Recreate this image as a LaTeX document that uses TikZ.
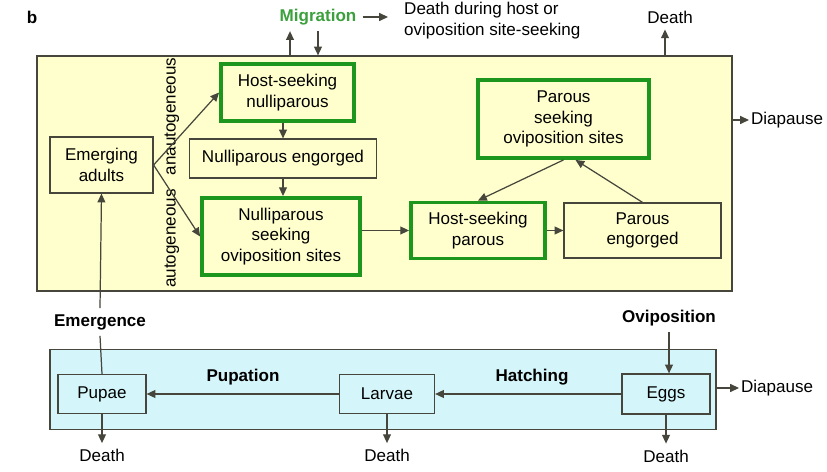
\documentclass[tikz,border=0pt]{standalone}
\usepackage{fontspec}
\setmainfont{Liberation Sans}
\usetikzlibrary{positioning, arrows.meta}
\definecolor{adultfill}{RGB}{255,255,206}
\definecolor{waterfill}{RGB}{212,246,250}
\definecolor{seekgreen}{RGB}{28,150,28}
\definecolor{miggreen}{RGB}{60,160,60}
\definecolor{edge}{RGB}{70,70,60}

\begin{document}
\begin{tikzpicture}[
    x=0.02cm, y=-0.02cm,
    every node/.style={font=\fontsize{9.7}{11.6}\selectfont},
    stage/.style={draw=edge, line width=0.7pt, fill=adultfill, align=center, inner sep=0pt},
    seeking/.style={stage, draw=seekgreen, line width=2.2pt},
    aqua/.style={stage, fill=waterfill},
    event/.style={font=\fontsize{9.7}{11.6}\selectfont\bfseries},
    flow/.style={->, draw=edge, line width=0.7pt},
    >={Triangle[length=5pt, width=4.5pt]}
]
  \fill[white] (0,0) rectangle (827,472);
  \useasboundingbox (0,0) rectangle (827,472);

  % compartments
  \node[stage, minimum width=13.9cm, minimum height=4.7cm] (adult) at (384.5,173.5) {};
  \node[aqua, minimum width=13.32cm, minimum height=1.6cm] (water) at (383,389.5) {};
  \node[event] (panel) at (32,17) {b};

  % adult stages
  \node[stage, minimum width=2.06cm, minimum height=1.12cm] (em) at (101.5,165) {Emerging\\adults};
  \node[seeking, minimum width=2.66cm, minimum height=1.14cm] (hsn) at (287.5,92.5) {Host-seeking\\nulliparous};
  \node[stage, minimum width=3.74cm, minimum height=0.78cm] (ne) at (283,158.5) {Nulliparous engorged};
  \node[seeking, minimum width=3.16cm, minimum height=1.54cm] (nso) at (281,236.5) {Nulliparous\\seeking\\oviposition sites};
  \node[seeking, minimum width=2.68cm, minimum height=1.12cm] (hsp) at (478,230.5) {Host-seeking\\parous};
  \node[stage, minimum width=3.14cm, minimum height=1.1cm] (pe) at (642.5,230.5) {Parous\\engorged};
  \node[seeking, minimum width=3.42cm, minimum height=1.56cm] (pso) at (563.5,119) {Parous\\seeking\\oviposition sites};

  % aquatic stages
  \node[aqua, minimum width=1.76cm, minimum height=0.78cm] (pupae) at (102,394) {Pupae};
  \node[aqua, minimum width=1.9cm, minimum height=0.78cm] (larvae) at (387,394) {Larvae};
  \node[aqua, minimum width=1.76cm, minimum height=0.8cm] (eggs) at (666,394) {Eggs};

  % labels
  \node[rotate=90] (anauto) at (172,116.5) {anautogeneous};
  \node[rotate=90] (auto) at (172,238.5) {autogeneous};
  \node[event, text=miggreen] (mig) at (318,17) {Migration};
  \node[align=left, anchor=west] (dhs) at (398,20.5) {Death during host or\\oviposition site-seeking};
  \node (dtop) at (670,17) {Death};
  \node[anchor=west, inner sep=1pt] (dia1) at (749,120) {Diapause};
  \node[anchor=west, inner sep=1pt] (dia2) at (739,388) {Diapause};
  \node[event] (emg) at (100,322) {Emergence};
  \node[event] (ovi) at (669,318) {Oviposition};
  \node[event] (pup) at (243,377) {Pupation};
  \node[event] (hat) at (532,377) {Hatching};
  \node[below=0.58cm of pupae] (d1) {Death};
  \node[below=0.58cm of larvae] (d2) {Death};
  \node[below=0.58cm of eggs] (d3) {Death};

  % adult transitions
  \draw[flow] (em.east) -- (hsn.west);
  \draw[flow] (em.east) -- (nso.west);
  \draw[flow] (ne.north |- hsn.south) -- (ne.north);
  \draw[flow] (ne.south) -- (ne.south |- nso.north);
  \draw[flow] (nso.east |- hsp) -- (hsp.west);
  \draw[flow] (hsp) -- (pe);
  \draw[flow] (pso.south) -- (hsp.north);
  \draw[flow] (pe.north) -- ([xshift=0.24cm]pso.south);

  % leaving the adult compartment
  \draw[flow] ([xshift=-0.56cm]mig.south |- adult.north) -- ([xshift=-0.56cm]mig.south);
  \draw[flow] (mig.south) -- (mig.south |- adult.north);
  \draw[flow, shorten >=0.2cm] (mig.east) -- (mig.east -| dhs.west);
  \draw[flow] ([xshift=-0.1cm]dtop.south |- adult.north) -- ([xshift=-0.1cm]dtop.south);
  \draw[flow] (adult.east |- dia1) -- (dia1.west);

  % aquatic transitions
  \draw[flow] (eggs) -- (larvae);
  \draw[flow] (larvae) -- (pupae);
  \draw[edge, line width=0.7pt] (pupae.north) -- (emg.south);
  \draw[flow] (emg.north) -- (em.south);
  \draw[flow] (ovi.south) -- (ovi.south |- eggs.north);
  \draw[flow] (water.east |- dia2) -- (dia2.west);
  \draw[flow] (pupae.south) -- (d1.north);
  \draw[flow] (larvae.south) -- (d2.north);
  \draw[flow] (eggs.south) -- (d3.north);
\end{tikzpicture}
\end{document}
